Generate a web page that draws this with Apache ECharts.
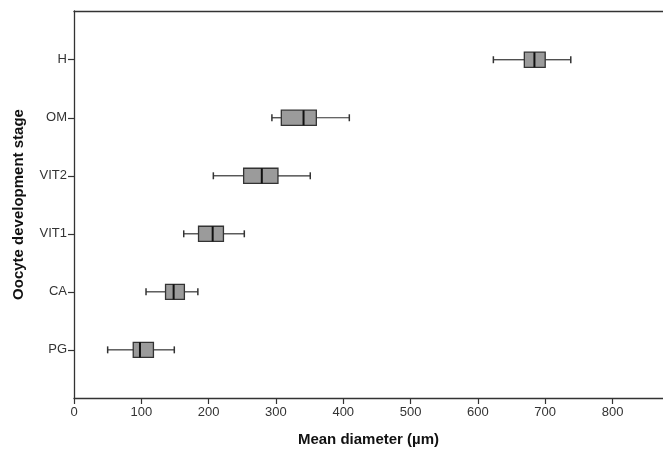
<!DOCTYPE html>
<html>
<head>
<meta charset="utf-8">
<script src="https://cdn.jsdelivr.net/npm/echarts@6/dist/echarts.min.js"></script>
<style>html,body{margin:0;padding:0;background:#fff;}#c{width:663px;height:450px;}</style>
</head>
<body>
<div id="c"></div>
<script>
// Categories (bottom to top)
const stages = ['PG', 'CA', 'VIT1', 'VIT2', 'OM', 'H'];
// Box statistics per stage (µm)
const whiskerMin = [50, 107, 163, 207, 294, 623];
const q1 = [88, 136, 185, 252, 308, 669];
const median = [98, 148, 206, 279, 341, 684];
const q3 = [118, 164, 222, 303, 360, 700];
const whiskerMax = [149, 184, 253, 351, 409, 738];
const xTicks = [0, 100, 200, 300, 400, 500, 600, 700, 800];
const yPositions = [1, 2, 3, 4, 5, 6];

const data = stages.map((s, i) => [yPositions[i], whiskerMin[i], q1[i], median[i], q3[i], whiskerMax[i]]);

const chart = echarts.init(document.getElementById('c'), null, {renderer: 'canvas'});
const axisColor = '#333';
const txt = '#333';
chart.setOption({
  animation: false,
  backgroundColor: '#fff',
  grid: {left: 74, right: 0, top: 11, bottom: 52, containLabel: false, outerBoundsMode: 'none'},
  xAxis: [{
    type: 'value', min: 0, max: 875, position: 'bottom',
    name: 'Mean diameter (µm)', nameLocation: 'middle', nameGap: 34,
    nameTextStyle: {fontFamily: 'Liberation Sans, Arial', fontWeight: 'bold', fontSize: 15, color: '#111'},
    axisLine: {show: true, lineStyle: {color: axisColor, width: 1.3}},
    axisTick: {show: true, length: 6, customValues: xTicks, lineStyle: {color: axisColor, width: 1.2}},
    axisLabel: {customValues: xTicks, margin: 8, fontFamily: 'Liberation Sans, Arial', fontSize: 13, color: txt},
    splitLine: {show: false}
  }, {
    type: 'value', min: 0, max: 875, position: 'top',
    axisLine: {show: true, lineStyle: {color: axisColor, width: 1.3}},
    axisTick: {show: false}, axisLabel: {show: false}, splitLine: {show: false}
  }],
  yAxis: {
    type: 'value', min: 0.17, max: 6.84,
    name: 'Oocyte development stage', nameLocation: 'middle', nameGap: 48,
    nameTextStyle: {fontFamily: 'Liberation Sans, Arial', fontWeight: 'bold', fontSize: 15, color: '#111'},
    axisLine: {show: true, lineStyle: {color: axisColor, width: 1.3}},
    axisTick: {show: true, length: 6, customValues: yPositions, lineStyle: {color: axisColor, width: 1.2}},
    axisLabel: {customValues: yPositions, margin: 7, fontFamily: 'Liberation Sans, Arial', fontSize: 13, color: txt,
      formatter: v => stages[yPositions.indexOf(Math.round(v))] || ''},
    splitLine: {show: false}
  },
  series: [{
    type: 'custom',
    encode: {x: [1, 2, 3, 4, 5], y: 0},
    data: data,
    renderItem: function (params, api) {
      const y = api.value(0);
      const pMin = api.coord([api.value(1), y]);
      const pQ1 = api.coord([api.value(2), y]);
      const pMed = api.coord([api.value(3), y]);
      const pQ3 = api.coord([api.value(4), y]);
      const pMax = api.coord([api.value(5), y]);
      const band = api.size([0, 1])[1];
      const bh = band * 0.26;
      const ch = band * 0.06;
      const ls = {stroke: '#333', lineWidth: 1.2};
      return {
        type: 'group',
        children: [
          {type: 'line', shape: {x1: pMin[0], y1: pMin[1], x2: pQ1[0], y2: pQ1[1]}, style: ls},
          {type: 'line', shape: {x1: pQ3[0], y1: pQ3[1], x2: pMax[0], y2: pMax[1]}, style: ls},
          {type: 'line', shape: {x1: pMin[0], y1: pMin[1] - ch, x2: pMin[0], y2: pMin[1] + ch}, style: {stroke: '#333', lineWidth: 1.5}},
          {type: 'line', shape: {x1: pMax[0], y1: pMax[1] - ch, x2: pMax[0], y2: pMax[1] + ch}, style: {stroke: '#333', lineWidth: 1.5}},
          {type: 'rect', shape: {x: pQ1[0], y: pQ1[1] - bh / 2, width: pQ3[0] - pQ1[0], height: bh},
            style: {fill: '#9b9b9b', stroke: '#333', lineWidth: 1.3}},
          {type: 'line', shape: {x1: pMed[0], y1: pMed[1] - bh / 2, x2: pMed[0], y2: pMed[1] + bh / 2},
            style: {stroke: '#111', lineWidth: 2}}
        ]
      };
    }
  }]
});
</script>
</body>
</html>
